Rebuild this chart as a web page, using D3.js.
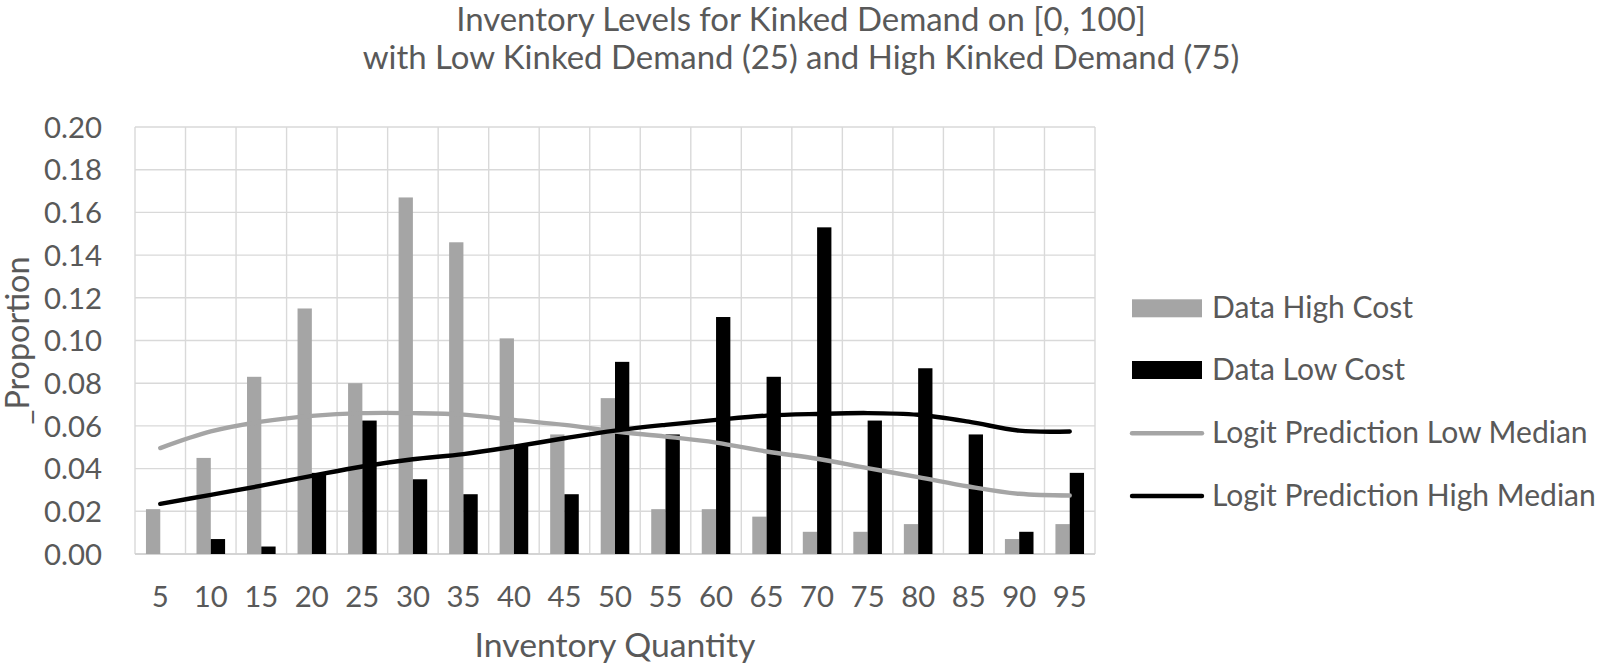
<!DOCTYPE html>
<html>
<head>
<meta charset="utf-8">
<script src="https://cdn.jsdelivr.net/npm/d3@7"></script>
<style>
  html, body { margin: 0; padding: 0; background: #fff; }
  svg { display: block; font-family: Lato, "Open Sans", sans-serif; }
</style>
</head>
<body>
<svg id="chart" width="1600" height="669"></svg>
<script>
// ---- data ----
const categories = [5, 10, 15, 20, 25, 30, 35, 40, 45, 50, 55, 60, 65, 70, 75, 80, 85, 90, 95];
const dataHighCost = [0.021, 0.045, 0.083, 0.115, 0.080, 0.167, 0.146, 0.101, 0.056, 0.073, 0.021, 0.021, 0.0175, 0.0104, 0.0104, 0.014, 0, 0.007, 0.014];
const dataLowCost = [0, 0.007, 0.0035, 0.038, 0.0625, 0.035, 0.028, 0.051, 0.028, 0.090, 0.056, 0.111, 0.083, 0.153, 0.0625, 0.087, 0.056, 0.0104, 0.038];
const predLowMedian = [0.0496, 0.0574, 0.062, 0.0647, 0.066, 0.066, 0.0653, 0.0628, 0.0605, 0.0574, 0.055, 0.0522, 0.048, 0.0446, 0.0402, 0.036, 0.0316, 0.0282, 0.0274];
const predHighMedian = [0.0235, 0.0277, 0.032, 0.0366, 0.041, 0.0444, 0.0468, 0.0503, 0.0542, 0.0578, 0.0605, 0.0628, 0.0648, 0.0656, 0.066, 0.0652, 0.062, 0.0578, 0.0574];
const yTicks = [0, 0.02, 0.04, 0.06, 0.08, 0.10, 0.12, 0.14, 0.16, 0.18, 0.20];
const titleLines = ["Inventory Levels for Kinked Demand on [0, 100]", "with Low Kinked Demand (25) and High Kinked Demand (75)"];
const xTitle = "Inventory Quantity";
const yTitle = "_Proportion";
const seriesNames = ["Data High Cost", "Data Low Cost", "Logit Prediction Low Median", "Logit Prediction High Median"];

(function () {
// ---- layout ----
const svg = d3.select("#chart");
const pLeft = 135, pRight = 1095, pTop = 127, pBottom = 554;
const textColor = "#595959", gridColor = "#d9d9d9", grey = "#a5a5a5", black = "#000000";
const pInner = 0.434;

const x = d3.scaleBand().domain(categories).range([pLeft, pRight]).paddingInner(pInner).paddingOuter(pInner / 2);
const xSub = d3.scaleBand().domain(["high", "low"]).range([0, x.bandwidth()]);
const y = d3.scaleLinear().domain([0, 0.2]).range([pBottom, pTop]);
const step = x.step();
const center = c => x(c) + x.bandwidth() / 2;

function fit(sel, targetWidth) {
  let fs = parseFloat(sel.attr("font-size"));
  const w = sel.node().getComputedTextLength();
  fs = fs * targetWidth / w;
  sel.attr("font-size", fs);
  return fs;
}

// grid
const grid = svg.append("g");
grid.selectAll("line.h").data(yTicks).join("line")
  .attr("x1", pLeft).attr("x2", pRight)
  .attr("y1", d => y(d)).attr("y2", d => y(d))
  .attr("stroke", gridColor).attr("stroke-width", 1.4);
const vBounds = d3.range(categories.length + 1);
grid.selectAll("line.v").data(vBounds).join("line")
  .attr("x1", i => pLeft + i * step).attr("x2", i => pLeft + i * step)
  .attr("y1", pTop).attr("y2", pBottom)
  .attr("stroke", gridColor).attr("stroke-width", 1.4);
grid.append("line").attr("x1", pLeft).attr("x2", pRight).attr("y1", y(0)).attr("y2", y(0))
  .attr("stroke", "#cfcfcf").attr("stroke-width", 1.6);

// bars
svg.append("g").selectAll("rect").data(categories).join("rect")
  .attr("x", c => x(c) + xSub("high"))
  .attr("width", xSub.bandwidth())
  .attr("y", (c, i) => y(dataHighCost[i]))
  .attr("height", (c, i) => y(0) - y(dataHighCost[i]))
  .attr("fill", grey);
svg.append("g").selectAll("rect").data(categories).join("rect")
  .attr("x", c => x(c) + xSub("low"))
  .attr("width", xSub.bandwidth())
  .attr("y", (c, i) => y(dataLowCost[i]))
  .attr("height", (c, i) => y(0) - y(dataLowCost[i]))
  .attr("fill", black);

// lines
const lineGen = vals => d3.line()
  .x((c) => center(c))
  .y((c, i) => y(vals[i]))
  .curve(d3.curveCatmullRom.alpha(0.5))(categories);
svg.append("path").attr("d", lineGen(predLowMedian)).attr("fill", "none")
  .attr("stroke", grey).attr("stroke-width", 4.4).attr("stroke-linecap", "round").attr("stroke-linejoin", "round");
svg.append("path").attr("d", lineGen(predHighMedian)).attr("fill", "none")
  .attr("stroke", black).attr("stroke-width", 4.4).attr("stroke-linecap", "round").attr("stroke-linejoin", "round");

// y axis tick labels
const yAxis = d3.axisLeft(y).tickValues(yTicks).tickFormat(d3.format(".2f")).tickSize(0).tickPadding(0);
const yAx = svg.append("g").attr("transform", `translate(${pLeft - 33},0)`).call(yAxis);
yAx.select(".domain").remove();
yAx.selectAll("text").attr("fill", textColor).attr("font-family", "Lato").attr("font-size", 30).attr("dy", "0.35em");
const tickFs = fit(yAx.selectAll("text").filter(d => d === 0.2), 58);
yAx.selectAll("text").attr("font-size", tickFs);

// x axis tick labels
const xAxis = d3.axisBottom(x).tickSize(0).tickPadding(0);
const xAx = svg.append("g").attr("transform", `translate(0,${pBottom})`).call(xAxis);
xAx.select(".domain").remove();
xAx.selectAll("text").attr("fill", textColor).attr("font-family", "Lato").attr("font-size", tickFs)
  .attr("dy", null).attr("y", 53);

// titles
const tg = svg.append("g").attr("fill", textColor).attr("text-anchor", "middle");
const t1 = tg.append("text").attr("x", 801).attr("y", 31).attr("font-size", 30).text(titleLines[0]);
const titleFs = fit(t1, 690);
tg.append("text").attr("x", 801).attr("y", 69).attr("font-size", titleFs).text(titleLines[1]);

const xt = svg.append("text").attr("x", (pLeft + pRight) / 2).attr("y", 657).attr("text-anchor", "middle")
  .attr("fill", textColor).attr("font-size", 30).text(xTitle);
fit(xt, 281);
const yt = svg.append("text").attr("transform", `translate(29,${(pTop + pBottom) / 2}) rotate(-90)`)
  .attr("text-anchor", "middle").attr("fill", textColor).attr("font-size", 30).text(yTitle);
fit(yt, 168);

// legend
const lg = svg.append("g");
const legendBase = [318.3, 380, 443.3, 506];
const legTexts = [];
seriesNames.forEach((name, i) => {
  const by = legendBase[i];
  if (i < 2) {
    lg.append("rect").attr("x", 1132).attr("y", by - 19).attr("width", 70).attr("height", 18)
      .attr("fill", i === 0 ? grey : black);
  } else {
    lg.append("line").attr("x1", 1132).attr("x2", 1202).attr("y1", by - 10).attr("y2", by - 10)
      .attr("stroke", i === 2 ? grey : black).attr("stroke-width", 4.4).attr("stroke-linecap", "round");
  }
  legTexts.push(lg.append("text").attr("x", 1212).attr("y", by).attr("fill", textColor)
    .attr("font-size", 30).text(name));
});
const legFs = fit(legTexts[3], 384);
legTexts.forEach(t => t.attr("font-size", legFs));
})();
</script>
</body>
</html>
